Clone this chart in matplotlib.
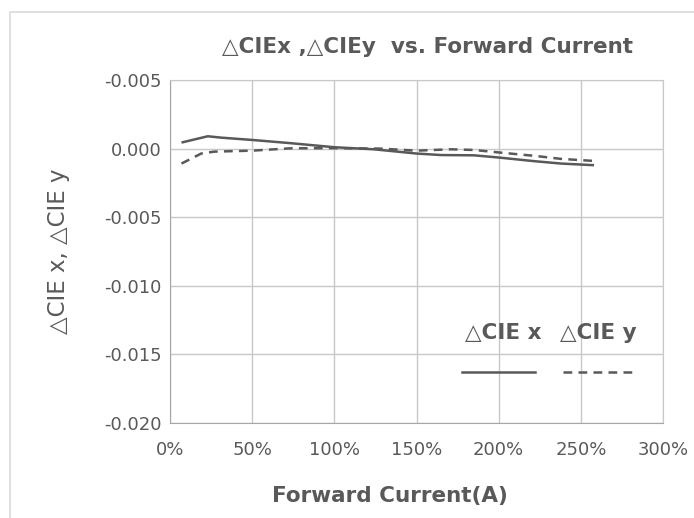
import matplotlib
matplotlib.use('Agg')
import matplotlib.pyplot as plt
from matplotlib.patches import Rectangle

# data (x = forward current as fraction of nominal)
cur_x = [0.07, 0.23, 0.31, 0.50, 0.73, 1.00, 1.24, 1.50, 1.65, 1.85, 2.00, 2.22, 2.38, 2.58]
cie_x = [0.00044, 0.00090, 0.00080, 0.00063, 0.00040, 0.00010, -0.00005, -0.00036,
         -0.00047, -0.00049, -0.00065, -0.00092, -0.00109, -0.00121]
cur_y = [0.07, 0.19, 0.27, 0.50, 0.73, 1.00, 1.28, 1.50, 1.71, 1.85, 2.00, 2.22, 2.38, 2.58]
cie_y = [-0.00109, -0.00036, -0.00022, -0.00015, 0.00002, 0.00003, 0.00000, -0.00015,
         -0.00005, -0.00010, -0.00028, -0.00053, -0.00075, -0.00090]

y_ticks = [-0.020, -0.015, -0.010, -0.005, 0.000, 0.005]
y_labels = ['-0.020', '-0.015', '-0.010', '-0.005', '0.000', '-0.005']
x_ticks = [0, 0.5, 1.0, 1.5, 2.0, 2.5, 3.0]
x_labels = ['0%', '50%', '100%', '150%', '200%', '250%', '300%']

plt.rcParams['font.family'] = ['DejaVu Sans']
grey = '#595959'

fig = plt.figure(figsize=(6.94, 5.18), dpi=100)
fig.patches.append(Rectangle((10 / 694, -0.1), 1.2, 1 - 12 / 518 + 0.1,
                             transform=fig.transFigure, fill=False,
                             edgecolor='#d9d9d9', linewidth=1.2))
ax = fig.add_axes([170 / 694, 1 - 423 / 518, 493 / 694, 343 / 518])

ax.plot(cur_x, cie_x, color=grey, lw=1.8, solid_capstyle='butt')
ax.plot(cur_y, cie_y, color=grey, lw=1.8, dashes=(3.5, 2.5))

ax.set_xlim(0, 3)
ax.set_ylim(-0.020, 0.005)
ax.set_xticks(x_ticks)
ax.set_xticklabels(x_labels)
ax.set_yticks(y_ticks)
ax.set_yticklabels(y_labels)
ax.grid(True, color='#c8c8c8', lw=1)
ax.set_axisbelow(True)
for s in ax.spines.values():
    s.set_color('#c8c8c8')
ax.spines['left'].set_color('#a6a6a6')
ax.spines['bottom'].set_color('#a6a6a6')
ax.tick_params(length=0, colors=grey, labelsize=13)
ax.tick_params(axis='x', pad=13)
ax.tick_params(axis='y', pad=6)

ax.set_xlabel('Forward Current(A)', fontsize=15.5, fontweight='bold', color=grey)
ax.xaxis.set_label_coords((390 - 170) / 493, -(486 - 423) / 343)
ax.set_ylabel('△CIE x, △CIE y', fontsize=16.5, color=grey)
ax.yaxis.set_label_coords(-(170 - 70) / 493, 0.5)
fig.text(427 / 694, 1 - 47 / 518, '△CIEx ,△CIEy  vs. Forward Current', ha='center',
         va='center', fontsize=15.5, fontweight='bold', color=grey)

# legend: text above line samples
ax.text(0.675, 0.262, '△CIE x', transform=ax.transAxes, ha='center', va='center',
        fontsize=15.5, fontweight='bold', color=grey)
ax.text(0.868, 0.262, '△CIE y', transform=ax.transAxes, ha='center', va='center',
        fontsize=15.5, fontweight='bold', color=grey)
ax.plot([0.592, 0.740], [0.149, 0.149], transform=ax.transAxes, color=grey, lw=1.8)
ax.plot([0.797, 0.945], [0.149, 0.149], transform=ax.transAxes, color=grey, lw=1.8,
        dashes=(3.5, 2.5))

fig.savefig('out.png', dpi=100)
